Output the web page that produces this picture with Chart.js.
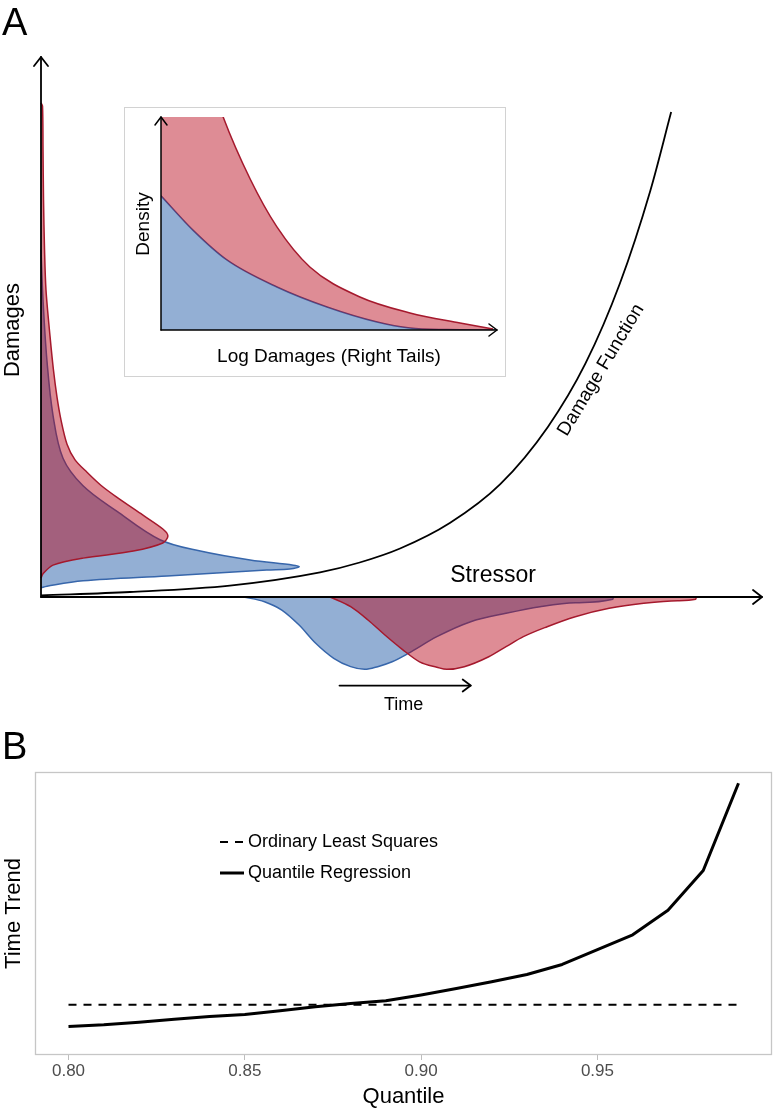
<!DOCTYPE html>
<html><head><meta charset="utf-8">
<script src="https://cdn.jsdelivr.net/npm/chart.js@4.4.1/dist/chart.umd.min.js"></script>
<style>
html,body{margin:0;padding:0;background:#fff;}
#wrap{position:relative;width:774px;height:1112px;overflow:hidden;background:#fff;}
canvas{position:absolute;display:block;}
#ca{left:0;top:0;}
#ci{left:124px;top:107px;}
#cb{left:0;top:730px;}
</style></head><body>
<div id="wrap">
<canvas id="ca" width="774" height="730"></canvas>
<canvas id="ci" width="382" height="270"></canvas>
<canvas id="cb" width="774" height="382"></canvas>
</div>
<script>
const FONT = "'Liberation Sans', Arial, Helvetica, sans-serif";
Chart.defaults.font.family = FONT;
Chart.defaults.color = '#000';

// ---------------- Panel A data (conceptual units: Stressor 0-100, Damages 0-100) ----------------
// Damage function
const dmgStressor = [0, 12.34, 26.2, 38.7, 44.2, 49.8, 56.7, 63.7, 70.3, 75.5, 80.3, 84.5, 87.4];
const dmgDamage   = [0.3, 0.93, 2.11, 4.56, 6.39, 8.98, 13.7, 20.9, 31.5, 43.2, 58.1, 75.2, 89.8];

// Damage distributions along the Damages axis (density pointing right)
const redDmgDensity  = [0, 0.21, 0.28, 0.35, 0.49, 0.69, 1.25, 1.73, 2.22, 2.77, 3.61, 4.72, 6.38, 8.3, 10.5, 14.1, 16.9, 17.6, 16.9, 12.8, 5.83, 1.66, 0.28, 0];
const redDmgLevel    = [91.5, 90.9, 82.8, 73.5, 64.3, 56.9, 48.3, 42.0, 37.0, 32.8, 28.3, 25.4, 23.1, 20.7, 18.5, 15.2, 12.6, 11.3, 10.0, 8.5, 7.2, 5.9, 4.3, 3.5];
const blueDmgDensity = [0, 0.28, 0.83, 1.66, 3.05, 5.83, 10.5, 16.5, 22.1, 29.0, 35.0, 35.8, 34.5, 31.3, 17.5, 5.83, 0.83, 0];
const blueDmgLevel   = [64.3, 55, 43.7, 33.7, 25.7, 20.6, 15.9, 10.6, 8.5, 6.85, 5.9, 5.6, 5.2, 5.0, 3.9, 3.0, 2.0, 1.7];

// Stressor distributions below the Stressor axis (density pointing down)
const blueStrLevel   = [28.1, 31.0, 33.4, 35.8, 38.1, 40.6, 42.95, 44.9, 46.7, 48.7, 51.0, 54.9, 59.6, 64.5, 69.2, 74.1, 79.3, 79.4];
const blueStrDensity = [0, -0.87, -2.41, -5.19, -8.57, -11.35, -12.9, -13.4, -12.9, -12.0, -10.4, -7.35, -4.57, -3.02, -1.80, -1.06, -0.43, 0];
const redStrLevel    = [40.1, 42.95, 45.35, 47.7, 50.1, 52.5, 54.9, 56.3, 58.7, 62.1, 64.5, 66.9, 70.2, 74.1, 78.8, 83.6, 88.3, 90.8, 90.9];
const redStrDensity  = [0, -1.80, -4.26, -7.04, -9.69, -12.0, -13.0, -13.4, -12.9, -11.06, -9.2, -7.35, -5.5, -3.65, -2.09, -1.17, -0.69, -0.43, 0];

// Inset: right tails of log damages
const insetRedLogDmg  = [0, 9, 18.5, 26.5, 34.5, 44.3, 59.2, 74.1, 89.0, 98.8];
const insetRedDens    = [200, 145, 100, 71, 48.4, 29.6, 15.5, 8.0, 3.3, 0.5];
const insetBlueLogDmg = [0, 9.5, 19.6, 34.5, 49.4, 64.3, 74.1, 85, 100];
const insetBlueDens   = [63, 46.9, 32.9, 20.2, 10.8, 3.76, 0.94, 0.2, 0];

// ---------------- Panel B data ----------------
const quantiles = [0.80, 0.81, 0.82, 0.83, 0.84, 0.85, 0.86, 0.87, 0.88, 0.89, 0.90, 0.91, 0.92, 0.93, 0.94, 0.95, 0.96, 0.97, 0.98, 0.99];
const qrTrend   = [0, 0.007, 0.018, 0.030, 0.041, 0.049, 0.065, 0.081, 0.095, 0.106, 0.130, 0.156, 0.184, 0.214, 0.255, 0.316, 0.377, 0.478, 0.641, 1.0];
const olsTrend  = 0.089;
const quantileTicks = [0.80, 0.85, 0.90, 0.95];

const RED_FILL = 'rgba(182,0,20,0.45)', RED_LINE = '#a5192d';
const BLUE_FILL = 'rgba(40,95,170,0.5)', BLUE_LINE = '#3766ab';

const pts = (xs, ys) => xs.map((v, i) => ({x: v, y: ys[i]}));

function arrow(ctx, x0, y0, x1, y1, len, half) {
  const a = Math.atan2(y1 - y0, x1 - x0);
  ctx.beginPath(); ctx.moveTo(x0, y0); ctx.lineTo(x1, y1); ctx.stroke();
  ctx.beginPath();
  ctx.moveTo(x1 - len * Math.cos(a) + half * Math.sin(a), y1 - len * Math.sin(a) - half * Math.cos(a));
  ctx.lineTo(x1, y1);
  ctx.lineTo(x1 - len * Math.cos(a) - half * Math.sin(a), y1 - len * Math.sin(a) + half * Math.cos(a));
  ctx.stroke();
}
function text(ctx, s, x, y, size, opts = {}) {
  ctx.save();
  ctx.font = size + 'px ' + FONT;
  ctx.fillStyle = opts.color || '#000';
  ctx.textAlign = opts.align || 'center';
  ctx.textBaseline = opts.baseline || 'middle';
  ctx.translate(x, y);
  if (opts.rot) ctx.rotate(opts.rot);
  ctx.fillText(s, 0, 0);
  ctx.restore();
}

// ---------------- Panel A ----------------
const panelAPlugin = {
  id: 'panelA',
  afterDatasetsDraw(chart) {
    const {ctx, scales: {x, y}} = chart;
    const X = v => x.getPixelForValue(v), Y = v => y.getPixelForValue(v);
    ctx.save();
    ctx.strokeStyle = '#000'; ctx.lineWidth = 1.8; ctx.lineCap = 'round'; ctx.lineJoin = 'round';
    arrow(ctx, X(0), Y(0), X(0), Y(100), 9, 7);
    arrow(ctx, X(0), Y(0), X(100), Y(0), 9, 7);
    arrow(ctx, X(41.4), Y(-16.4), X(59.6), Y(-16.4), 8, 6);
    ctx.restore();
    text(ctx, 'A', 2, 35, 38, {align: 'left', baseline: 'alphabetic'});
    text(ctx, 'Damages', 13, 330, 22, {rot: -Math.PI / 2});
    text(ctx, 'Stressor', X(62.7), Y(3.9), 23);
    text(ctx, 'Time', X(50.3), Y(-20), 18);
    text(ctx, 'Damage Function', 601, 370, 19, {rot: -59 * Math.PI / 180});
  }
};

new Chart(document.getElementById('ca'), {
  type: 'scatter',
  data: {datasets: [
    {label: 'Damage Function', data: pts(dmgStressor, dmgDamage), borderColor: '#000', borderWidth: 1.8, fill: false, order: 0, cubicInterpolationMode: 'monotone'},
    {label: 'Damages, later', data: pts(redDmgDensity, redDmgLevel), borderColor: RED_LINE, backgroundColor: RED_FILL, fill: 'shape', order: 1, tension: 0.3},
    {label: 'Stressor, later', data: pts(redStrLevel, redStrDensity), borderColor: RED_LINE, backgroundColor: RED_FILL, fill: 'origin', order: 1, cubicInterpolationMode: 'monotone'},
    {label: 'Damages, earlier', data: pts(blueDmgDensity, blueDmgLevel), borderColor: BLUE_LINE, backgroundColor: BLUE_FILL, fill: 'shape', order: 2, tension: 0.35},
    {label: 'Stressor, earlier', data: pts(blueStrLevel, blueStrDensity), borderColor: BLUE_LINE, backgroundColor: BLUE_FILL, fill: 'origin', order: 2, cubicInterpolationMode: 'monotone'}
  ]},
  options: {
    responsive: false, animation: false, events: [],
    layout: {padding: {left: 41, right: 12, top: 57, bottom: 25}},
    plugins: {legend: {display: false}, tooltip: {enabled: false}},
    datasets: {scatter: {showLine: true, pointRadius: 0, borderWidth: 1.5, clip: false}},
    elements: {line: {capBezierPoints: false}},
    scales: {
      x: {type: 'linear', min: 0, max: 100, display: false},
      y: {type: 'linear', min: -20, max: 100, display: false}
    }
  },
  plugins: [panelAPlugin]
});

// ---------------- Inset ----------------
const insetPlugin = {
  id: 'inset',
  beforeDraw(chart) {
    const {ctx, width, height} = chart;
    ctx.save(); ctx.fillStyle = '#fff'; ctx.fillRect(0, 0, width, height); ctx.restore();
  },
  afterDatasetsDraw(chart) {
    const {ctx, width, height, scales: {x, y}} = chart;
    const X = v => x.getPixelForValue(v), Y = v => y.getPixelForValue(v);
    ctx.save();
    ctx.strokeStyle = '#d2d2d2'; ctx.lineWidth = 1;
    ctx.strokeRect(0.5, 0.5, width - 1, height - 1);
    ctx.strokeStyle = '#000'; ctx.lineWidth = 1.5; ctx.lineCap = 'round'; ctx.lineJoin = 'round';
    arrow(ctx, X(0), Y(0), X(0), Y(100), 8, 6);
    arrow(ctx, X(0), Y(0), X(100), Y(0), 8, 6);
    ctx.restore();
    text(ctx, 'Density', 19.5, 117, 19, {rot: -Math.PI / 2});
    text(ctx, 'Log Damages (Right Tails)', 205, 250, 19);
  }
};
new Chart(document.getElementById('ci'), {
  type: 'scatter',
  data: {datasets: [
    {label: 'Later', data: pts(insetRedLogDmg, insetRedDens), borderColor: RED_LINE, backgroundColor: RED_FILL, fill: 1, order: 1},
    {label: 'Earlier', data: pts(insetBlueLogDmg, insetBlueDens), borderColor: '#47508f', backgroundColor: BLUE_FILL, fill: 'origin', order: 2}
  ]},
  options: {
    responsive: false, animation: false, events: [],
    layout: {padding: {left: 37, right: 9, top: 10, bottom: 47}},
    plugins: {legend: {display: false}, tooltip: {enabled: false}},
    datasets: {scatter: {showLine: true, pointRadius: 0, borderWidth: 1.5, cubicInterpolationMode: 'monotone'}},
    elements: {line: {capBezierPoints: false}},
    scales: {
      x: {type: 'linear', min: 0, max: 100, display: false},
      y: {type: 'linear', min: 0, max: 100, display: false}
    }
  },
  plugins: [insetPlugin]
});

// ---------------- Panel B ----------------
const panelBPlugin = {
  id: 'panelB',
  afterDatasetsDraw(chart) {
    const {ctx, chartArea: a} = chart;
    ctx.save();
    ctx.strokeStyle = '#c6c6c6'; ctx.lineWidth = 1.3;
    ctx.strokeRect(a.left + 0.5, a.top + 0.5, a.right - a.left - 1, a.bottom - a.top - 1);
    // legend
    const rows = [112, 143];
    chart.data.datasets.forEach((ds, i) => {
      const yy = rows[i];
      ctx.strokeStyle = ds.borderColor; ctx.lineWidth = ds.borderWidth;
      ctx.setLineDash(ds.borderDash || []);
      ctx.beginPath(); ctx.moveTo(220, yy); ctx.lineTo(244, yy); ctx.stroke();
      ctx.setLineDash([]);
      text(ctx, ds.label, 248, yy, 18, {align: 'left'});
    });
    ctx.restore();
    text(ctx, 'B', 2, 29, 38, {align: 'left', baseline: 'alphabetic'});
  }
};
new Chart(document.getElementById('cb'), {
  type: 'scatter',
  data: {datasets: [
    {label: 'Ordinary Least Squares', data: quantiles.map(q => ({x: q, y: olsTrend})), borderColor: '#000', borderWidth: 2, borderDash: [8, 7]},
    {label: 'Quantile Regression', data: pts(quantiles, qrTrend), borderColor: '#000', borderWidth: 3}
  ]},
  options: {
    responsive: false, animation: false, events: [],
    layout: {padding: {left: 0, right: 2, top: 42, bottom: 4}},
    plugins: {legend: {display: false}, tooltip: {enabled: false}},
    datasets: {scatter: {showLine: true, pointRadius: 0, tension: 0, borderCapStyle: 'butt', borderJoinStyle: 'round'}},
    scales: {
      x: {
        type: 'linear', min: 0.7905, max: 0.9995,
        afterBuildTicks: s => { s.ticks = quantileTicks.map(v => ({value: v})); },
        ticks: {callback: v => v.toFixed(2), color: '#4d4d4d', font: {size: 17, lineHeight: 1}, padding: 3, maxRotation: 0, autoSkip: false},
        grid: {drawOnChartArea: false, drawTicks: true, tickLength: 5, color: '#bdbdbd'},
        border: {display: false},
        title: {display: true, text: 'Quantile', color: '#000', font: {size: 22, lineHeight: 1}, padding: {top: 3, bottom: 0}}
      },
      y: {
        type: 'linear', min: -0.117, max: 1.046,
        ticks: {display: false},
        grid: {display: false, drawTicks: false},
        border: {display: false},
        title: {display: true, text: 'Time Trend', color: '#000', font: {size: 22, lineHeight: 1}, padding: {top: 3, bottom: 10}}
      }
    }
  },
  plugins: [panelBPlugin]
});
</script>
</body></html>
